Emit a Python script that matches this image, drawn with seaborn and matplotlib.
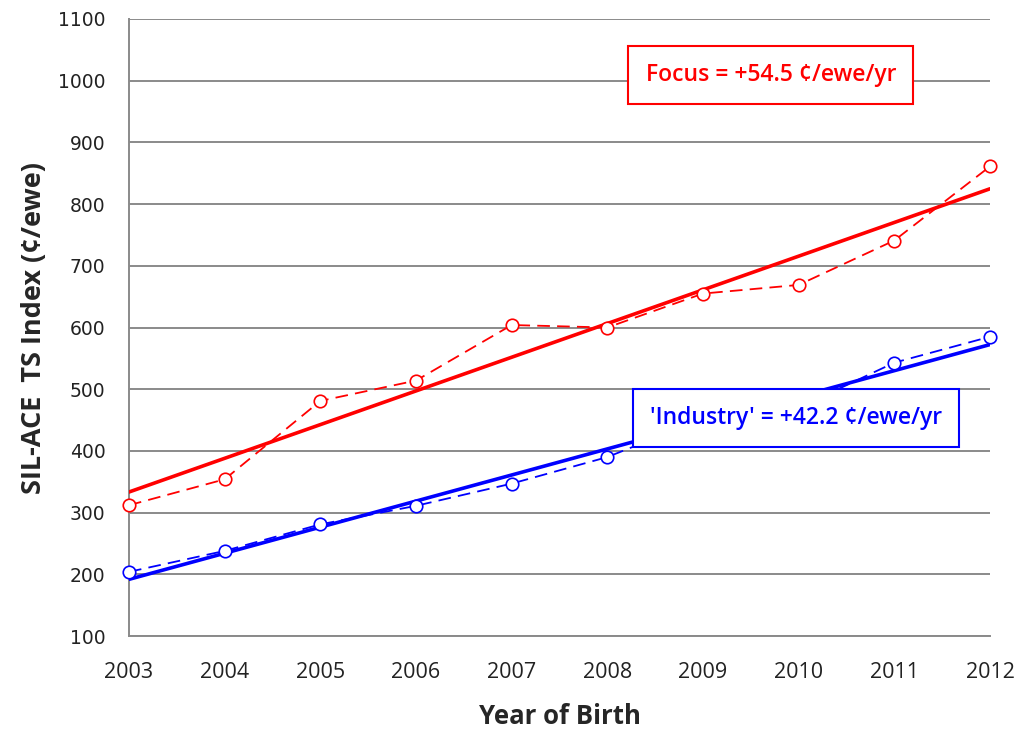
import numpy as np
import pandas as pd
import matplotlib
matplotlib.use('Agg')
import matplotlib.pyplot as plt
import seaborn as sns

years = [2003, 2004, 2005, 2006, 2007, 2008, 2009, 2010, 2011, 2012]
focus_index = [312, 354, 481, 514, 604, 600, 655, 669, 741, 861]
industry_index = [204, 238, 281, 311, 347, 390, 452, 470, 543, 585]
focus_label = 'Focus = +54.5 ¢/ewe/yr'
industry_label = "'Industry' = +42.2 ¢/ewe/yr"

sns.set_style('white')
plt.rcParams['font.family'] = ['Open Sans', 'DejaVu Sans']

df = pd.DataFrame({'year': years, 'focus': focus_index, 'industry': industry_index})

fig = plt.figure(figsize=(10.23, 7.33), dpi=100)
ax = fig.add_axes([0.1261, 0.1323, 0.8416, 0.8418])

for ycol, col in [('focus', '#ff0000'), ('industry', '#0000ff')]:
    # solid linear trend + dashed observed values
    sns.regplot(data=df, x='year', y=ycol, ax=ax, scatter=False, ci=None, truncate=True,
                line_kws={'color': col, 'lw': 2.6, 'zorder': 3})
    sns.lineplot(data=df, x='year', y=ycol, ax=ax, color=col, lw=1.3,
                 dashes=False, linestyle=(0, (7, 4)), marker='o', markersize=9,
                 markerfacecolor='white', markeredgecolor=col, markeredgewidth=1.2,
                 zorder=4, clip_on=False)

ax.set_xlim(2003, 2012)
ax.set_ylim(100, 1100)
ax.set_xticks(years)
ax.set_yticks(range(100, 1101, 100))
ax.yaxis.grid(True, color='#8a8a8a', lw=1.4)
ax.set_axisbelow(True)
for s in ['top', 'right']:
    ax.spines[s].set_visible(False)
for s in ['left', 'bottom']:
    ax.spines[s].set_color('#8a8a8a')
    ax.spines[s].set_linewidth(1.4)
ax.tick_params(axis='both', direction='out', length=7, width=1.2, color='#8a8a8a',
               labelcolor='#222222')
ax.tick_params(axis='x', labelsize=15.5, pad=12)
ax.tick_params(axis='y', labelsize=13.5, pad=10)
for lab in ax.get_yticklabels():
    lab.set_family('DejaVu Sans')
ax.set_xlabel('Year of Birth', fontsize=18.5, fontweight='bold', labelpad=14)
ax.set_ylabel('SIL-ACE  TS Index (¢/ewe)', fontsize=19.5, fontweight='bold', labelpad=8)

ax.text(2009.71, 1009, focus_label, color='#ff0000', fontsize=16.5, fontweight='semibold',
        ha='center', va='center', zorder=6,
        bbox=dict(boxstyle='square,pad=0.75', fc='white', ec='#ff0000', lw=1.5))
ax.text(2009.97, 453, industry_label, color='#0000ff', fontsize=16.5, fontweight='semibold',
        ha='center', va='center', zorder=6,
        bbox=dict(boxstyle='square,pad=0.75', fc='white', ec='#0000ff', lw=1.5))

fig.savefig('out.png', dpi=100)
